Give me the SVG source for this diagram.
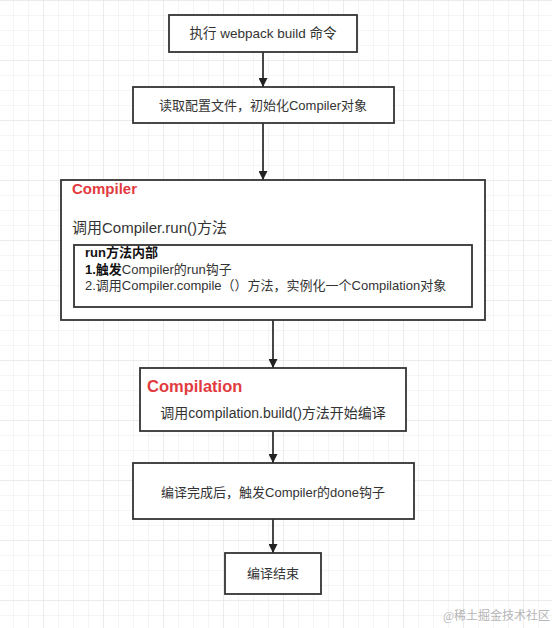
<svg xmlns="http://www.w3.org/2000/svg" width="552" height="628" viewBox="0 0 552 628">
<defs>
<pattern id="minor" x="13" y="0" width="15" height="15" patternUnits="userSpaceOnUse">
<path d="M0 0H15M0 0V15" fill="none" stroke="#ececec" stroke-width="1"/>
</pattern>
<pattern id="major" x="43" y="0" width="60" height="60" patternUnits="userSpaceOnUse">
<path d="M0 0H60M0 0V60" fill="none" stroke="#e2e2e2" stroke-width="1"/>
</pattern>
<marker id="arr" viewBox="0 0 10 10" refX="10" refY="5" markerWidth="9" markerHeight="9" markerUnits="userSpaceOnUse" orient="auto">
<path d="M0 0L10 5L0 10Z" fill="#222"/>
</marker>
</defs>
<style>
.box{fill:#fff;stroke:#333;stroke-width:1.8}
.t{font-family:"Liberation Sans","Noto Sans CJK SC",sans-serif;fill:#333;font-size:13px}
.red{font-family:"Liberation Sans","Noto Sans CJK SC",sans-serif;fill:#e23b3f;font-weight:bold}
.b{font-weight:bold;fill:#111}
.c{stroke:#333;stroke-width:1.8;fill:none;marker-end:url(#arr)}
</style>
<rect width="552" height="628" fill="#fff"/>
<rect width="552" height="628" fill="url(#minor)"/>
<rect width="552" height="628" fill="url(#major)"/>

<g id="connectors">
<line class="c" x1="263" y1="52" x2="263" y2="87"/>
<line class="c" x1="263" y1="123" x2="263" y2="180"/>
<line class="c" x1="273" y1="320" x2="273" y2="368"/>
<line class="c" x1="273" y1="431" x2="273" y2="463"/>
<line class="c" x1="273" y1="519" x2="273" y2="553"/>
</g>

<g id="n1">
<rect class="box" x="169" y="15" width="188" height="37"/>
<text class="t" x="263" y="38" text-anchor="middle" style="font-size:13.5px">执行 webpack build 命令</text>
</g>

<g id="n2">
<rect class="box" x="133" y="87" width="261" height="36"/>
<text class="t" x="263" y="110" text-anchor="middle">读取配置文件，初始化Compiler对象</text>
</g>

<g id="n3">
<rect class="box" x="61" y="180" width="424" height="140"/>
<text class="red" x="72" y="194" style="font-size:15px">Compiler</text>
<text class="t" x="72" y="233" style="font-size:15px">调用Compiler.run()方法</text>
<g id="n3-inner">
<rect class="box" x="74" y="245" width="398" height="62"/>
<text class="t b" x="85" y="257">run方法内部</text>
<text class="t" x="85" y="273.5"><tspan class="b">1.触发</tspan>Compiler的run钩子</text>
<text class="t" x="85" y="290">2.调用Compiler.compile（）方法，实例化一个Compilation对象</text>
</g>
</g>

<g id="n4">
<rect class="box" x="140" y="368" width="266" height="63"/>
<text class="red" x="147" y="392" style="font-size:16.5px">Compilation</text>
<text class="t" x="273" y="418" text-anchor="middle" style="font-size:14px">调用compilation.build()方法开始编译</text>
</g>

<g id="n5">
<rect class="box" x="133" y="463" width="281" height="56"/>
<text class="t" x="273" y="497" text-anchor="middle">编译完成后，触发Compiler的done钩子</text>
</g>

<g id="n6">
<rect class="box" x="225" y="553" width="96" height="41"/>
<text class="t" x="273" y="578" text-anchor="middle">编译结束</text>
</g>

<text x="443" y="620" style="font-family:'Liberation Serif','Noto Sans CJK SC',serif;font-size:12px;fill:#b5b5b5">@稀土掘金技术社区</text>
</svg>
